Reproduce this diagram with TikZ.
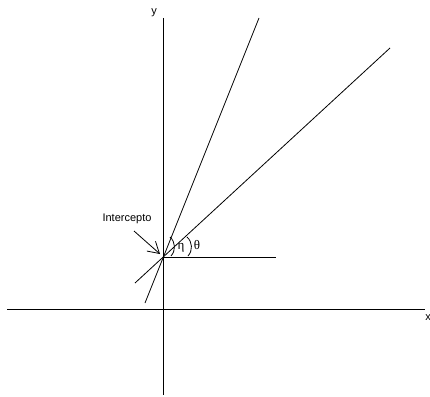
\documentclass[tikz,border=0pt]{standalone}
\usepackage{fontspec}
\setmainfont{Liberation Sans}
\newfontfamily\greekfont{Liberation Serif}
\usetikzlibrary{arrows.meta}

\begin{document}
\begin{tikzpicture}[
  x=1pt,y=-1pt,
  line/.style={line width=0.8pt},
  lbl/.style={font=\fontsize{11}{13}\selectfont,inner sep=1pt},
  greek/.style={font=\greekfont\fontsize{13}{15}\selectfont,inner sep=1pt},
  pointer/.style={-{Straight Barb[length=11pt,width=13pt]},line width=0.8pt}
]
  \useasboundingbox (0,0) rectangle (430,396);
  % axes
  \coordinate (xl) at (7,309);
  \coordinate (xr) at (425,309);
  \coordinate (yt) at (163,18);
  \coordinate (yb) at (163,395);
  \draw[line] (xl) -- (xr);
  \draw[line] (yt) -- (yb);
  \node[lbl] (ylab) at (154,13) {y};
  \node[lbl] (xlab) at (428,318) {x};
  % the two lines through the intercept
  \coordinate (o) at (163,257);
  \coordinate (s1) at (145,303);
  \coordinate (s2) at (259,18);
  \coordinate (f1) at (135,283);
  \coordinate (f2) at (390,48);
  \coordinate (h) at (276,257);
  \draw[line] (s1) -- (s2);
  \draw[line] (f1) -- (f2);
  \draw[line] (o) -- (h);
  % angles
  \coordinate (a1) at (170,237);
  \coordinate (a2) at (171,256);
  \coordinate (b1) at (187,237);
  \coordinate (b2) at (188,256);
  \draw[line] (a1) to[bend left=45] (a2);
  \draw[line] (b1) to[bend left=45] (b2);
  \node[greek] (eta) at (181,248) {η};
  \node[greek] (theta) at (197,245) {θ};
  % label
  \node[lbl] (icpt) at (127,219) {Intercepto};
  \coordinate (tail) at (134,231);
  \coordinate (tip) at (160,254);
  \draw[pointer] (tail) -- (tip);
\end{tikzpicture}
\end{document}
